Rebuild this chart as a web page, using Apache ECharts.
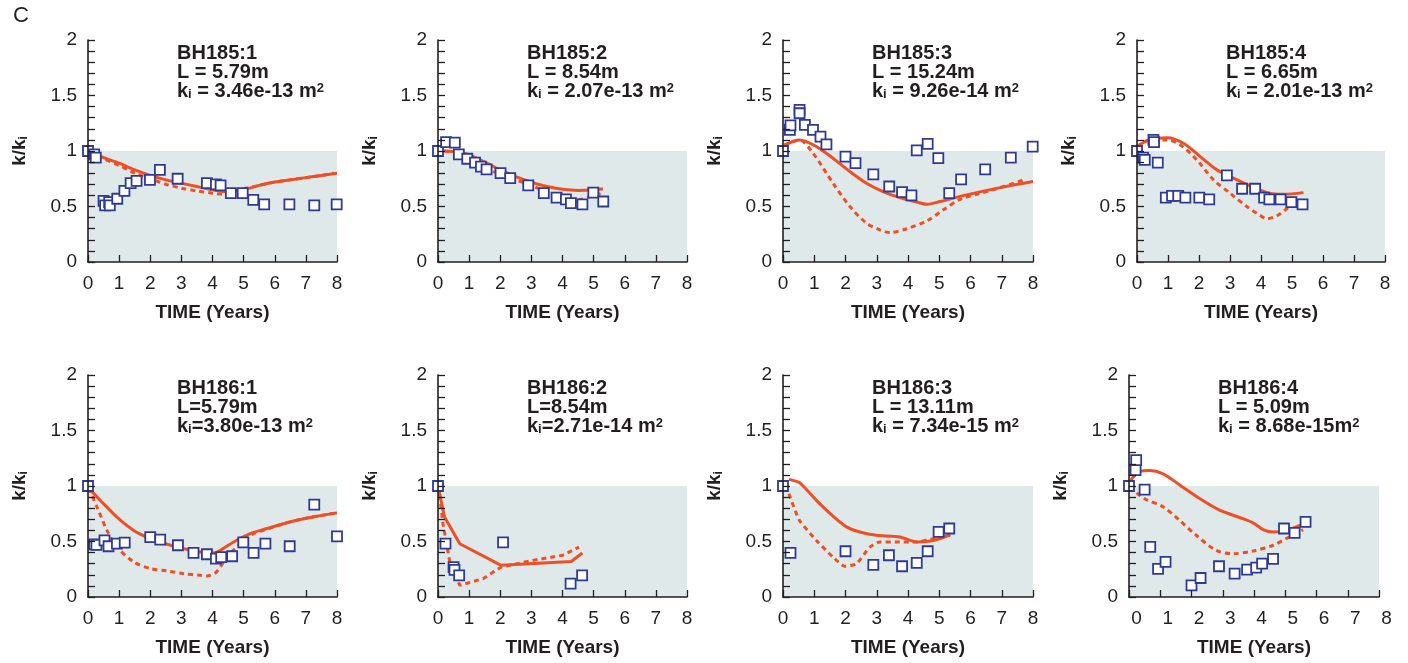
<!DOCTYPE html>
<html><head><meta charset="utf-8">
<script src="https://cdn.jsdelivr.net/npm/echarts@6/dist/echarts.min.js"></script>
<style>html,body{margin:0;padding:0;background:#fff}#c{width:1408px;height:663px}</style>
</head><body><div id="c"></div><script>
// ---------- DATA ----------
const xTicks = [0,1,2,3,4,5,6,7,8];
const yTicks = [0,0.5,1,1.5,2];

const names = ['BH185:1','BH185:2','BH185:3','BH185:4','BH186:1','BH186:2','BH186:3','BH186:4'];
const lengthLabels = ['L = 5.79m','L = 8.54m','L = 15.24m','L = 6.65m','L=5.79m','L=8.54m','L = 13.11m','L = 5.09m'];
const kiLabels = [' = 3.46e-13 m',' = 2.07e-13 m',' = 9.26e-14 m',' = 2.01e-13 m','=3.80e-13 m','=2.71e-14 m',' = 7.34e-15 m',' = 8.68e-15m'];

const bh185_1_obs = [[0,1.0],[0.2,0.97],[0.25,0.94],[0.5,0.55],[0.55,0.51],[0.68,0.54],[0.7,0.51],[0.94,0.57],[1.17,0.64],[1.37,0.71],[1.56,0.73],[1.99,0.74],[2.31,0.83],[2.88,0.75],[3.82,0.71],[4.11,0.7],[4.26,0.69],[4.59,0.62],[4.97,0.62],[5.31,0.56],[5.66,0.52],[6.47,0.52],[7.27,0.51],[7.99,0.52]];
const bh185_1_solid = [[0.05,0.99],[0.5,0.94],[1,0.89],[1.5,0.83],[2,0.78],[2.5,0.74],[3,0.71],[3.5,0.68],[4,0.65],[4.5,0.63],[5,0.65],[5.5,0.69],[6,0.72],[6.5,0.74],[7,0.76],[7.5,0.78],[8,0.8]];
const bh185_1_dotted = [[0.05,0.99],[0.5,0.93],[1,0.87],[1.5,0.8],[2,0.75],[2.5,0.7],[3,0.665],[3.5,0.64],[4,0.62],[4.3,0.61],[4.6,0.63],[5,0.66],[5.5,0.69],[6,0.72],[6.5,0.74],[7,0.76],[7.5,0.78],[7.9,0.8]];

const bh185_2_obs = [[0,1.0],[0.26,1.08],[0.54,1.075],[0.67,0.97],[0.94,0.93],[1.19,0.895],[1.38,0.86],[1.56,0.835],[2.01,0.8],[2.32,0.755],[2.9,0.69],[3.4,0.62],[3.81,0.58],[4.11,0.565],[4.27,0.53],[4.64,0.52],[4.99,0.625],[5.31,0.545]];
const bh185_2_solid = [[0.2,1.0],[0.5,0.995],[1,0.965],[1.5,0.9],[2,0.83],[2.5,0.77],[3,0.72],[3.5,0.68],[4,0.655],[4.5,0.645],[5,0.65],[5.3,0.66]];
const bh185_2_dotted = [[0.2,1.0],[0.5,0.99],[1,0.95],[1.6,0.84],[2.2,0.77],[2.9,0.7],[3.5,0.63],[4,0.58],[4.5,0.56],[4.9,0.59],[5.3,0.62]];

const bh185_3_obs = [[0,1.0],[0.22,1.19],[0.24,1.23],[0.53,1.37],[0.53,1.34],[0.7,1.235],[0.96,1.19],[1.2,1.13],[1.39,1.06],[2,0.95],[2.32,0.89],[2.89,0.79],[3.4,0.68],[3.81,0.63],[4.11,0.6],[4.28,1.005],[4.63,1.065],[4.97,0.935],[5.32,0.62],[5.7,0.745],[6.47,0.835],[7.29,0.94],[7.99,1.04]];
const bh185_3_solid = [[0.05,1.055],[0.53,1.1],[1.07,1.04],[1.6,0.935],[2.14,0.815],[2.67,0.71],[3.2,0.635],[3.74,0.58],[4.28,0.54],[4.6,0.52],[5.03,0.545],[5.88,0.605],[6.95,0.67],[8,0.725]];
const bh185_3_dotted = [[0.05,1.05],[0.53,1.1],[0.96,0.98],[1.6,0.71],[2.14,0.5],[2.67,0.35],[3.1,0.29],[3.42,0.265],[3.96,0.3],[4.6,0.37],[5.13,0.47],[5.67,0.565],[6.2,0.61],[6.95,0.67],[7.75,0.745]];

const bh185_4_obs = [[0,1.0],[0.2,0.94],[0.25,0.92],[0.53,1.1],[0.55,1.08],[0.67,0.895],[0.93,0.58],[1.13,0.595],[1.33,0.595],[1.56,0.58],[2.01,0.58],[2.33,0.565],[2.9,0.78],[3.39,0.66],[3.81,0.66],[4.1,0.58],[4.27,0.565],[4.63,0.565],[4.98,0.54],[5.34,0.52]];
const bh185_4_solid = [[0,1.04],[0.43,1.105],[0.97,1.12],[1.5,1.07],[2.04,0.95],[2.58,0.83],[3.11,0.755],[3.65,0.685],[4.19,0.625],[4.73,0.61],[5.37,0.625]];
const bh185_4_dotted = [[0,1.04],[0.43,1.1],[0.97,1.1],[1.4,1.055],[1.93,0.92],[2.47,0.74],[3.0,0.62],[3.54,0.5],[3.97,0.42],[4.19,0.39],[4.51,0.415],[4.83,0.48],[5.16,0.56]];

const bh186_1_obs = [[0,1.0],[0.2,0.475],[0.27,0.47],[0.53,0.51],[0.66,0.457],[0.93,0.48],[1.18,0.49],[2.0,0.54],[2.32,0.517],[2.89,0.466],[3.39,0.397],[3.82,0.385],[4.11,0.346],[4.28,0.36],[4.63,0.367],[4.99,0.493],[5.32,0.397],[5.7,0.48],[6.48,0.457],[7.27,0.833],[8,0.547]];
const bh186_1_solid = [[0.02,0.98],[0.4,0.87],[0.93,0.72],[1.47,0.6],[2,0.526],[2.54,0.475],[3.07,0.436],[3.61,0.406],[4.04,0.397],[4.25,0.42],[4.68,0.496],[5.21,0.571],[5.75,0.617],[6.28,0.66],[6.82,0.698],[7.36,0.728],[8,0.758]];
const bh186_1_dotted = [[0.02,0.98],[0.29,0.81],[0.61,0.6],[0.93,0.45],[1.47,0.316],[2,0.256],[2.54,0.235],[3.07,0.21],[3.61,0.195],[3.82,0.19],[4.09,0.217],[4.25,0.27],[4.46,0.36],[4.89,0.48],[5.32,0.571],[5.75,0.61],[6.28,0.66],[7,0.71],[8,0.758]];

const bh186_2_obs = [[0,1.0],[0.24,0.48],[0.5,0.27],[0.53,0.245],[0.68,0.195],[2.09,0.493],[4.26,0.12],[4.63,0.195]];
const bh186_2_solid = [[0,1.0],[0.21,0.72],[0.7,0.48],[2.03,0.285],[4.28,0.32],[4.64,0.397]];
const bh186_2_dotted = [[0.02,1.0],[0.16,0.66],[0.37,0.33],[0.7,0.105],[1.45,0.165],[2.03,0.27],[3.05,0.33],[4.01,0.376],[4.53,0.45]];

const bh186_3_obs = [[0,1.0],[0.24,0.397],[2.0,0.412],[2.89,0.29],[3.39,0.376],[3.81,0.277],[4.28,0.307],[4.63,0.412],[4.98,0.586],[5.32,0.617]];
const bh186_3_solid = [[0.19,1.06],[0.53,1.03],[1.07,0.87],[1.6,0.728],[2.03,0.632],[2.46,0.586],[2.99,0.556],[3.74,0.541],[4.28,0.496],[4.71,0.505],[5.03,0.526],[5.35,0.565]];
const bh186_3_dotted = [[0.19,0.93],[0.53,0.69],[1.07,0.51],[1.6,0.36],[1.98,0.277],[2.35,0.3],[2.78,0.45],[3.1,0.496],[3.74,0.496],[4.28,0.496],[4.81,0.526],[5.35,0.556]];

const bh186_4_obs = [[0,1.0],[0.21,1.143],[0.23,1.233],[0.5,0.968],[0.68,0.451],[0.93,0.253],[1.17,0.316],[2.0,0.105],[2.29,0.171],[2.88,0.277],[3.38,0.21],[3.78,0.247],[4.07,0.265],[4.26,0.3],[4.61,0.343],[4.96,0.617],[5.3,0.577],[5.65,0.677]];
const bh186_4_solid = [[0.02,1.04],[0.34,1.13],[0.66,1.14],[1.09,1.11],[1.62,1.01],[2.26,0.887],[2.9,0.782],[3.54,0.716],[3.97,0.668],[4.29,0.608],[4.61,0.586],[5.03,0.6],[5.57,0.656]];
const bh186_4_dotted = [[0.02,0.99],[0.34,0.917],[0.55,0.878],[1.09,0.812],[1.62,0.69],[2.15,0.556],[2.79,0.42],[3.33,0.39],[3.97,0.415],[4.61,0.466],[5.03,0.526],[5.57,0.607]];

const obsSets = [bh185_1_obs,bh185_2_obs,bh185_3_obs,bh185_4_obs,bh186_1_obs,bh186_2_obs,bh186_3_obs,bh186_4_obs];
const solidSets = [bh185_1_solid,bh185_2_solid,bh185_3_solid,bh185_4_solid,bh186_1_solid,bh186_2_solid,bh186_3_solid,bh186_4_solid];
const dottedSets = [bh185_1_dotted,bh185_2_dotted,bh185_3_dotted,bh185_4_dotted,bh186_1_dotted,bh186_2_dotted,bh186_3_dotted,bh186_4_dotted];

// ---------- LAYOUT ----------
const FONT = '"Liberation Sans", Arial, Helvetica, sans-serif';
const INK = '#231f20';
const RED = '#f04e25';
const BLUE = '#2e3b96';
const SHADE = '#dfe9e9';
const gridLeft = [88,438,783,1137,88,438,783,1129];
const gridWidth = [249,249,250,248,249,249,250,250];
const gridTop = [40,40,40,40,375,375,375,375];
const GRID_H = 222;
const smoothOn = [0.3,0.3,0.3,0.3,0.3,false,0.2,0.3];

const grids = [], xAxes = [], yAxes = [], series = [], titles = [];
titles.push({text:'C', left:8, top:0, textStyle:{fontFamily:FONT, fontSize:22, fontWeight:'normal', color:INK}});

const richT = {
  b:{fontFamily:FONT, fontSize:20, fontWeight:'bold', color:INK, lineHeight:19},
  s:{fontFamily:FONT, fontSize:13, fontWeight:'bold', color:INK, lineHeight:13, verticalAlign:'bottom', padding:[8,0,0,0]},
  p:{fontFamily:FONT, fontSize:13, fontWeight:'bold', color:INK, lineHeight:13, verticalAlign:'top', padding:[0,0,4,0]}
};

for (let i=0;i<8;i++){
  grids.push({left:gridLeft[i], top:gridTop[i], width:gridWidth[i], height:GRID_H, show:false});
  xAxes.push({
    type:'value', gridIndex:i, min:xTicks[0], max:xTicks[xTicks.length-1], interval:1, z:6,
    name:'TIME (Years)', nameLocation:'middle', nameGap:41,
    nameTextStyle:{fontFamily:FONT, fontSize:19, fontWeight:'bold', color:INK},
    axisLine:{show:true, onZero:false, lineStyle:{color:INK, width:1.6}},
    axisTick:{show:true, inside:true, length:7, lineStyle:{color:INK, width:1.3}},
    axisLabel:{fontFamily:FONT, fontSize:19, color:INK, margin:12, padding: i===7 ? [0,0,0,15] : 0},
    splitLine:{show:false}
  });
  yAxes.push({
    type:'value', gridIndex:i, min:yTicks[0], max:yTicks[yTicks.length-1], interval:0.5, z:6,
    name:'{b|k/k}{s|i}', nameLocation:'middle', nameGap:58, nameRotate:90,
    nameTextStyle:{rich:{
      b:{fontFamily:FONT, fontSize:19, fontWeight:'bold', color:INK},
      s:{fontFamily:FONT, fontSize:12, fontWeight:'bold', color:INK, verticalAlign:'bottom', padding:[8,0,0,0]}
    }},
    axisLine:{show:true, onZero:false, lineStyle:{color:INK, width:1.6}},
    axisTick:{show:true, inside:true, length:7, lineStyle:{color:INK, width:1.3}},
    minorTick:{show:true, splitNumber:5, length:7, lineStyle:{color:INK, width:1.3}},
    axisLabel:{fontFamily:FONT, fontSize:19, color:INK, margin:11},
    splitLine:{show:false}
  });
  titles.push({
    left: gridLeft[i] + 89, top: gridTop[i] + 4, padding:0,
    text: '{b|' + names[i] + '}\n{b|' + lengthLabels[i] + '}\n{b|k}{s|i}{b|' + kiLabels[i] + '}{p|2}',
    textStyle:{rich:richT}
  });
  series.push({
    type:'line', xAxisIndex:i, yAxisIndex:i, data:solidSets[i], symbol:'none', smooth:smoothOn[i], z:3,
    lineStyle:{color:RED, width:3},
    markArea:{silent:true, itemStyle:{color:SHADE}, z:1,
      data:[[{xAxis:0, yAxis:0},{xAxis:8, yAxis:1}]]}
  });
  series.push({
    type:'line', xAxisIndex:i, yAxisIndex:i, data:dottedSets[i], symbol:'none', smooth:smoothOn[i], z:3,
    lineStyle:{color:RED, width:3, type:[5,4]}
  });
  series.push({
    type:'scatter', xAxisIndex:i, yAxisIndex:i, data:obsSets[i], symbol:'rect', symbolSize:10, z:5,
    itemStyle:{color:'#ffffff', borderColor:BLUE, borderWidth:1.8, opacity:1}
  });
}

const chart = echarts.init(document.getElementById('c'), null, {renderer:'canvas'});
chart.setOption({animation:false, backgroundColor:'#ffffff', title:titles, grid:grids, xAxis:xAxes, yAxis:yAxes, series:series});
</script></body></html>
